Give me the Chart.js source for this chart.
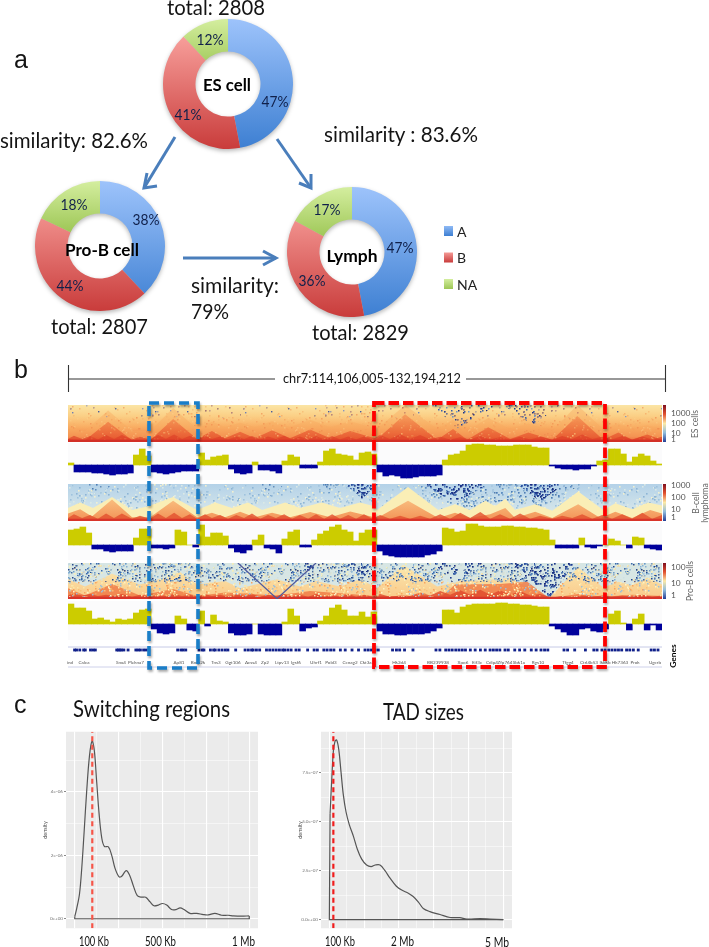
<!DOCTYPE html>
<html><head><meta charset="utf-8"><title>Compartments</title>
<script src="https://cdn.jsdelivr.net/npm/chart.js@4/dist/chart.umd.js"></script>
<style>
html,body{margin:0;padding:0;background:#fff;overflow:hidden}
#page{position:relative;width:709px;height:947px;overflow:hidden;background:#fff}
canvas{position:absolute;display:block}
svg{position:absolute;left:0;top:0;z-index:20;pointer-events:none}
</style></head><body><div id="page"></div>
<script>
/* ---------- panel a ---------- */
const compartmentLabels = ["A","B","NA"];
const esShares   = [47,41,12];
const proBShares = [38,44,18];
const lymphShares= [47,36,17];

/* ---------- panel b: compartment tracks, one value per 181 kb bin ---------- */
const esCompartment = [2,-7,-7,-7,-8,-8,-9,-10,-9,-9,-8,10,16,9,-7,-8,-9,-8,-7,-6,-6,-6,12,5,8,9,10,-4,-8,-9,-8,3,-5,-5,-6,-8,4,10,8,-3,-3,-3,3,14,16,11,10,9,5,12,13,11,-7,-11,-10,-11,-13,-13,-12,-11,-11,-11,-10,5,10,11,14,20,21,21,20,20,19,19,19,20,20,20,18,17,17,-1,-3,-4,-4,-5,-4,-4,-1,4,5,16,16,11,3,8,11,9,4,1];
const bCompartment = [15,16,18,12,-4,-4,-6,-7,-6,-6,-6,7,16,16,-3,-3,-4,-3,15,13,0,-2,20,8,12,12,9,-3,-7,-8,-5,5,10,-3,-4,-8,6,13,15,-2,-2,5,11,14,18,20,15,13,4,12,15,15,-6,-10,-11,-12,-12,-12,-12,-12,-10,-9,-6,17,16,13,14,21,21,19,18,18,18,19,19,18,18,17,17,16,15,5,-3,-3,-3,-3,7,-2,-3,-1,0,6,4,0,-3,8,7,-3,-4,-5];
const proBCompartment = [20,16,16,13,5,6,4,2,5,4,5,11,14,15,-5,-9,-10,-9,8,5,-6,-7,13,-2,9,3,2,-9,-11,-11,-10,0,-10,-11,-11,-11,2,15,8,-7,-4,-3,3,8,16,19,14,8,8,12,7,12,-7,-10,-10,-11,-11,-10,-10,-10,-9,-7,-4,14,14,11,17,19,20,20,20,20,21,21,20,20,19,19,18,17,17,-2,-5,-8,-11,-11,-5,-4,-7,-8,-5,10,13,1,-6,5,10,-6,-1,-6];

/* ---------- panel b: contact maps, domain outlines read along the locus (Mb) ---------- */
const ridgeMb = [114.11,114.29,114.54,114.78,115.02,115.27,115.51,115.75,116.06,116.30,116.61,116.85,117.09,117.34,117.58,117.82,118.04,118.28,118.49,118.74,118.98,119.23,119.47,119.71,119.96,120.20,120.44,120.69,120.93,121.17,121.42,121.66,121.91,122.15,122.39,122.64,122.88,123.12,123.37,123.61,123.91,124.22,124.52,124.83,125.13,125.44,125.74,126.05,126.35,126.66,126.96,127.26,127.57,127.87,128.18,128.48,128.85,129.15,129.46,129.76,130.07,130.37,130.67,130.98,131.28,131.59,131.89,132.19];
const esRidge = [8,17,8,16,7,19,8,19,7,14,7,19,9,20,8,17,7,16,8,15,7,15,8,16,7,15,8,17,7,15,7,16,7,16,7,15,7,15,7,19,8,21,8,19,7,14,7,13,7,16,7,13,7,14,7,14,6,16,8,20,8,14,7,16,7,15,7,14];
const bRidge = [8,18,8,16,6,20,8,20,6,14,6,20,8,22,8,18,6,18,8,16,6,16,8,20,6,16,8,18,6,16,6,18,6,18,6,16,6,18,6,16,6,14,6,14,6,18,6,22,8,24,6,18,6,20,6,14,6,14,8,18,6,16,6,18,6,22,6,16];
const proBRidge = [10,16,10,14,8,12,8,14,6,12,6,12,8,14,8,12,6,14,8,12,6,14,8,14,6,12,8,14,6,12,6,14,6,12,6,14,6,12,6,14,6,10,8,18,10,22,12,24,12,26,12,24,12,22,10,14,4,8,4,10,6,10,6,10,6,12,6,10];
const floorMb = [114.11,132.19];
const floorLevel = [6,6];

const esDomainMb = [114.11,114.63,115.33,116.06,116.61,117.31,118.04,118.49,118.89,119.35,119.80,120.32,120.87,121.48,122.09,122.70,123.52,124.37,125.35,125.83,126.26,126.90,127.57,128.12,128.85,129.61,130.40,130.86,131.28,131.74,132.19];
const esDomain   = [8,5,55,5,5,62,8,30,10,28,10,32,10,34,10,30,8,75,6,35,6,40,8,26,6,70,6,26,6,20,6];
const esHalo     = [40,30,85,30,30,92,35,55,40,52,40,56,40,60,40,56,35,100,35,60,30,65,35,50,30,100,35,50,35,45,35];
const esDepletedMb = [114.11,125.19,125.98,127.17,127.35,128.27,129.09,132.19];
const esDepleted   = [100,100,36,100,100,45,100,100];
const esSparse   = [66,66];

const bOuterMb = [114.11,114.48,114.87,115.45,116.06,116.55,117.31,118.04,118.59,119.10,119.59,120.02,120.72,121.17,121.84,122.39,123.00,123.43,123.52,124.46,125.38,125.89,126.35,126.81,127.11,127.42,127.72,128.33,128.85,129.64,130.40,130.77,131.28,131.77,132.19];
const bOuter   = [35,50,35,65,30,40,65,30,50,35,50,30,50,35,50,35,50,40,30,92,30,45,30,55,40,60,30,45,28,80,30,48,32,50,42];
const bInnerMb = [114.11,114.48,114.84,115.45,116.06,116.61,117.31,118.04,118.49,118.89,119.35,119.80,120.32,120.87,121.48,122.09,122.70,123.43,123.52,124.46,125.38,125.89,126.35,126.96,127.42,127.72,128.33,128.85,129.64,130.31,130.77,131.28,131.83,132.19];
const bInner   = [20,32,12,58,10,10,55,10,22,10,25,10,22,10,24,10,26,10,8,55,8,22,8,18,35,8,25,8,45,8,25,8,30,20];
const bDeepMb = [114.11,122.54,123.06,123.55,124.92,125.89,126.90,127.78,128.48,129.24,132.19];
const bDeep   = [100,100,60,100,100,48,100,100,53,100,100];
const bShadeMb = [114.11,114.63,115.02,115.51,119.96,120.32,120.69,121.00,121.66,122.09,122.39,123.43,124.46,125.98,127.42,128.48,129.76,132.19];
const bShade   = [100,100,70,100,100,62,100,100,100,74,100,100,100,30,56,32,100,100];

const proBOuterMb = [114.11,114.63,115.45,116.30,117.06,117.52,118.04,118.89,119.35,120.47,121.17,121.66,122.39,123.00,123.43,123.52,124.31,125.35,126.05,126.75,127.57,128.76,129.64,130.40,130.86,131.28,131.74,132.19];
const proBOuter   = [55,35,70,40,60,75,40,50,30,55,35,50,35,55,35,30,95,35,50,52,58,2,88,32,48,38,60,40];
const proBInnerMb = [114.11,114.63,115.45,116.30,117.31,118.04,118.89,120.47,121.48,122.70,123.43,125.50,125.89,127.26,128.09,128.76,129.64,130.40,131.28,132.19];
const proBInner   = [30,10,42,10,28,8,18,10,22,14,8,8,40,42,48,2,14,6,12,8];
const proBDeepMb = [114.11,121.17,121.48,121.66,122.54,123.06,123.55,125.22,125.89,126.75,127.57,128.09,128.76,129.55,132.19];
const proBDeep   = [100,100,60,100,100,55,100,100,42,100,100,52,2,100,100];
const proBGrain  = [0,0];
const proBLineMb = [119.28,120.47,121.66];
const proBLine   = [100,1,100];

const geneMb = [114.19,114.25,114.35,114.47,114.52,114.68,114.76,114.83,115.49,115.54,115.59,115.64,115.71,115.84,116.08,116.15,116.22,116.32,116.40,117.37,117.47,117.54,117.62,118.03,118.13,118.18,118.38,118.48,118.53,118.64,118.74,118.84,118.92,119.16,119.45,119.55,119.65,119.70,119.80,119.90,120.11,120.21,120.31,120.41,120.51,120.61,120.67,120.77,120.87,121.02,121.12,121.38,121.58,121.68,121.88,121.98,122.09,122.19,122.39,122.54,122.75,122.95,123.15,123.25,123.35,123.46,123.56,124.0,124.12,124.22,124.37,124.63,125.34,125.46,125.64,125.74,125.84,125.95,126.05,126.15,126.25,126.40,126.55,126.71,126.86,127.01,127.11,127.21,127.31,127.47,127.57,127.77,127.92,128.08,128.28,128.43,128.58,128.69,128.79,129.29,129.40,129.62,129.95,130.21,130.31,130.46,130.56,130.67,130.77,130.87,130.97,131.07,131.22,131.32,131.43,131.58,131.98,132.08,132.19];

/* ---------- panel c ---------- */
const switchKb = [0,11,27,40,53,68,84,99,112,125,139,154,169,192,211,230,253,268,293,312,335,357,382,405,430,452,477,500,525,553,578,601,624,658,696,734,762,800,838,876,905,952,996];
const switchDensity = [0.07,0.32,0.78,1.6,2.7,4.02,5.14,5.61,5.29,4.33,3.31,2.55,2.28,2.27,2.0,1.59,1.32,1.34,1.52,1.39,1.03,0.73,0.68,0.68,0.53,0.41,0.43,0.48,0.43,0.29,0.29,0.34,0.29,0.17,0.17,0.13,0.12,0.17,0.11,0.11,0.09,0.08,0.09];
const tadMb = [0.02,0.07,0.115,0.16,0.21,0.27,0.335,0.40,0.48,0.575,0.69,0.805,0.93,1.07,1.2,1.32,1.456,1.6,1.74,1.92,2.08,2.27,2.41,2.56,2.7,2.89,3.18,3.47,3.75,3.95,4.33,4.62,5];
const tadDensity = [5.42,7.2,8.6,9.1,9.18,8.7,7.55,6.4,5.5,4.84,4.27,3.6,3.09,2.79,2.71,2.79,2.79,2.5,2.13,1.72,1.51,1.35,1.18,0.9,0.57,0.41,0.26,0.11,0.1,0.03,0.05,0.03,0];
const switchYTicks = ["0e+00","2e-06","4e-06"];
const tadYTicks = ["0.0e+00","2.5e-07","5.0e-07","7.5e-07"];

/* ---------- helpers ---------- */
Chart.defaults.animation = false;
Chart.defaults.font.family = "Lato, sans-serif";
const page = document.getElementById('page');
function canvasAt(x,y,w,h,css){
  const c=document.createElement('canvas');
  c.width=w;c.height=h;
  c.style.cssText=`left:${x}px;top:${y}px;width:${w}px;height:${h}px;`+(css||'');
  page.appendChild(c);return c;
}
const baseOpts={responsive:false,maintainAspectRatio:false,devicePixelRatio:1,events:[],layout:{padding:0},
  plugins:{legend:{display:false},tooltip:{enabled:false}}};

/* doughnuts */
const sliceColors=[['#9dc3fb','#3d7fd2',0,1],['#f8a09c','#c93c3b',0.12,1],['#d4ee9f','#9dc655',0,0.4]];
function donut(x,y,values){
  new Chart(canvasAt(x-65,y-65,130,130,'filter:drop-shadow(0 2px 2px rgba(0,0,0,.28));'),{
    type:'doughnut',
    data:{labels:compartmentLabels,datasets:[{data:values,borderWidth:0,hoverOffset:0,
      backgroundColor(ctx){
        const a=ctx.chart.chartArea; if(!a) return '#888';
        const s=sliceColors[ctx.dataIndex], h=a.bottom-a.top;
        const g=ctx.chart.ctx.createLinearGradient(0,a.top+s[2]*h,0,a.top+s[3]*h);
        g.addColorStop(0,s[0]);g.addColorStop(1,s[1]);return g;
      }}]},
    options:{...baseOpts,cutout:'50%'}
  });
}
donut(228,84,esShares);
donut(100,246,proBShares);
donut(352,252,lymphShares);

/* compartment bars */
function track(y,h,values,max,min){
  new Chart(canvasAt(68,y,594,h,'background:#fbfbfc;filter:blur(.35px);'),{
    type:'bar',
    data:{labels:values.map((_,i)=>i),datasets:[{data:values,
      backgroundColor:values.map(v=>v>=0?'#cccc00':'#00009c'),
      categoryPercentage:1,barPercentage:1,borderWidth:0}]},
    options:{...baseOpts,scales:{x:{display:false},y:{display:false,min,max}}}
  });
}
track(443,37,esCompartment,22,-15);
track(523,37,bCompartment,22,-15);
track(601,39,proBCompartment,23,-16);

/* grain tiles for the noisy, low-count part of the contact maps */
const paintCtx=document.createElement('canvas').getContext('2d');
function hash(i){const v=Math.sin(i*12.9898)*43758.5453;return v-Math.floor(v);}
function tile(w,h,n,colors,size,seed){
  const c=document.createElement('canvas');c.width=w;c.height=h;
  const g=c.getContext('2d');
  for(let i=0;i<n;i++){
    g.fillStyle=colors[i%colors.length];
    g.fillRect(Math.floor(hash(seed+i*2)*w),Math.floor(hash(seed+i*2+1)*h),size,size);
  }
  return paintCtx.createPattern(c,'repeat');
}
function vgrad(h,stops){
  const g=paintCtx.createLinearGradient(0,0,0,h);
  stops.forEach(([o,c])=>g.addColorStop(o,c));
  return g;
}
const esDense=tile(173,37,620,['#27408f','#3a5fa8','#1c2f80','#6f97c6'],1.5,11);
const esFew=tile(173,37,90,['#4a5c9c','#6e7fb3','#8a96c0'],1.4,53);
const esGrain=tile(173,37,260,['rgba(247,178,108,.6)','rgba(251,214,146,.35)','rgba(238,138,78,.6)','rgba(245,160,92,.6)'],1.5,97);
const bDense=tile(173,37,1300,['#1e3a90','#2c52a3','#14297c','#4f7cb8','#1a3188'],1.6,131);
const bMottle=tile(173,37,650,['#5f8fc2','#7fa9cf','#4d7db5','#a9c9e0','#e9f0d8'],1.6,211);
const bHaze=tile(173,37,380,['#9fc3de','#dbe9e6','#8db5d6','#f3f0cf'],1.6,307);
const pDense=tile(173,36,1000,['#1e3a90','#2c52a3','#14297c','#4f7cb8','#cfe0e2'],1.6,401);
const pNoiseTop=tile(173,36,950,['#3c6cb0','#86b0d4','#cfe0e2','#f7efb9','#25478f','#6f9cc8'],1.5,503);
const pNoiseWarm=tile(173,36,620,['#f9c27a','#fbe7a8','#9dbfd8','#f7a35e','#fdf3c6'],1.5,601);

function pts(xs,ys){return xs.map((x,i)=>({x,y:ys[i]}));}
function layer(xs,ys,color,fill){return {data:pts(xs,ys),backgroundColor:color,fill:fill||'start',borderWidth:0,pointRadius:0,tension:0};}
function heat(y,h,bg,datasets,blur){
  new Chart(canvasAt(68,y,594,h,`background:${bg};filter:blur(${blur}px);`),{
    type:'line',data:{datasets},
    options:{...baseOpts,scales:{x:{type:'linear',display:false,min:114.11,max:132.19},y:{display:false,min:0,max:100}}}
  });
}
heat(405,37,'linear-gradient(#fbe5a5 0%,#fbcf85 30%,#f9ad62 60%,#f2854a 85%,#e6502f 94%,#d22f26 100%)',[
  layer(floorMb,floorLevel,'#d22f26'),
  layer(ridgeMb,esRidge,'rgba(220,62,38,.62)'),
  layer(floorMb,[100,100],esGrain,'start'),
  layer(esDomainMb,esDomain,vgrad(37,[[0.2,'rgba(244,128,70,.5)'],[1,'rgba(226,74,40,.85)']])),
  layer(esDomainMb,esHalo,'rgba(247,170,95,.42)'),
  layer(esDepletedMb,esDepleted,esDense,'end'),
  layer(floorMb,esSparse,esFew,'end')
],.6);
heat(484,37,'linear-gradient(#b4d2e8,#cfe2ea 60%,#e6eee0)',[
  layer(floorMb,floorLevel,'#d8342a'),
  layer(ridgeMb,bRidge,'rgba(226,80,46,.8)'),
  layer(bInnerMb,bInner,vgrad(37,[[0.3,'rgba(250,190,125,.85)'],[1,'rgba(242,140,80,.95)']])),
  layer(bOuterMb,bOuter,'#faeeb6'),
  layer(bDeepMb,bDeep,bDense,'end'),
  layer(bShadeMb,bShade,bMottle,'end'),
  layer(floorMb,[0,0],bHaze,'end')
],.6);
heat(563,36,'#d7e6e4',[
  {data:pts(proBLineMb,proBLine),borderColor:'#4f5a9e',borderWidth:1.3,pointRadius:0,fill:false,tension:0},
  layer(floorMb,floorLevel,'#d8342a'),
  layer(proBDeepMb,proBDeep,pDense,'end'),
  layer(floorMb,[48,48],pNoiseTop,'end'),
  layer(floorMb,proBGrain,pNoiseWarm,'end'),
  layer(ridgeMb,proBRidge,'rgba(224,72,44,.8)'),
  layer(proBInnerMb,proBInner,'rgba(240,125,72,.85)'),
  layer(proBOuterMb,proBOuter,vgrad(36,[[0,'#fbeab0'],[1,'#f9c98a']]))
],.55);

/* genes: short dark ticks */
new Chart(canvasAt(68,646,594,8,'z-index:5;filter:blur(.3px);'),{
  type:'scatter',
  data:{datasets:[{data:geneMb.map(x=>({x,y:1})),showLine:false,pointStyle:'rect',pointRadius:2,
    pointBackgroundColor:'#10208a',pointBorderColor:'#10208a',pointBorderWidth:0,clip:false}]},
  options:{...baseOpts,scales:{x:{type:'linear',display:false,min:114.11,max:132.19},y:{display:false,min:0,max:2}}}
});

/* density panels */
const panelBg={id:'panelBg',beforeDraw(c){const a=c.chartArea,g=c.ctx;g.save();g.fillStyle='#ebebeb';g.fillRect(a.left,a.top,a.right-a.left,a.bottom-a.top);g.restore();}};
function density(left,top,w,h,cfg){
  const gut=24;
  new Chart(canvasAt(left-gut,top,w+gut,h,'filter:blur(.25px);'),{
    type:'scatter',
    data:{datasets:[
      {data:[{x:cfg.mark,y:cfg.ymin},{x:cfg.mark,y:cfg.ymax}],showLine:true,borderColor:cfg.markColor,borderWidth:2.2,borderDash:[5,3.5],pointRadius:0},
      {data:pts(cfg.xs,cfg.ys),showLine:true,borderColor:'#555',borderWidth:1.2,pointRadius:0,tension:.35},
      {data:cfg.closure,showLine:true,borderColor:'#555',borderWidth:1.2,pointRadius:0,tension:0}
    ]},
    options:{...baseOpts,scales:{
      x:{type:'linear',min:cfg.xmin,max:cfg.xmax,border:{display:false},
        afterBuildTicks:s=>{s.ticks=cfg.xgrid.map(value=>({value}))},
        afterFit:s=>{s.height=0},
        ticks:{display:false,autoSkip:false},
        grid:{color:'#fff',drawTicks:false,lineWidth:c=>c.index%2?0.5:1.1}},
      y:{type:'linear',min:cfg.ymin,max:cfg.ymax,border:{display:false},
        afterBuildTicks:s=>{s.ticks=cfg.ygrid.map(value=>({value}))},
        afterFit:s=>{s.width=gut},
        title:{display:true,text:'density',font:{size:5.5},color:'#444',padding:0},
        ticks:{autoSkip:false,font:{size:4.6},color:'#777',padding:1,
          callback:(v,i)=>i%2?'':cfg.labels[i/2]},
        grid:{color:'#fff',tickLength:2,tickColor:c=>c.index%2?'rgba(0,0,0,0)':'#888',lineWidth:c=>c.index%2?0.5:1.1}}
    }},
    plugins:[panelBg]
  });
}
density(66,728,192,204,{xs:switchKb,ys:switchDensity,xmin:-50,xmax:1046,ymin:-0.3,ymax:5.9,mark:100,markColor:'#f65548',
  closure:[{x:switchKb[0],y:switchDensity[0]},{x:0,y:0},{x:1000,y:0},{x:switchKb[switchKb.length-1],y:switchDensity[switchKb.length-1]}],
  xgrid:[0,125,250,375,500,625,750,875,1000],ygrid:[0,1,2,3,4,5],labels:switchYTicks});
density(321,728,191,204,{xs:tadMb,ys:tadDensity,xmin:-0.24,xmax:5.25,ymin:-0.44,ymax:9.6,mark:0.115,markColor:'#f01c1c',
  closure:[{x:tadMb[0],y:tadDensity[0]},{x:0,y:0},{x:5,y:0}],
  xgrid:[0,0.5,1,1.5,2,2.5,3,3.5,4,4.5,5],ygrid:[0,1.25,2.5,3.75,5,6.25,7.5,8.75],labels:tadYTicks});

/* text, arrows, frames */
const NS='http://www.w3.org/2000/svg';
const svg=document.createElementNS(NS,'svg');svg.setAttribute('width',709);svg.setAttribute('height',947);page.appendChild(svg);
function el(n,a,p){const e=document.createElementNS(NS,n);for(const k in a)e.setAttribute(k,a[k]);(p||svg).appendChild(e);return e;}
function t(s,x,y,size,o={}){
  const a={x,y,'font-size':size,'font-family':o.fam||'Lato, sans-serif',fill:o.fill||'#141414','text-anchor':o.anchor||'start','font-weight':o.w||400};
  if(o.len){a.textLength=o.len;a.lengthAdjust='spacingAndGlyphs';}
  if(o.rot)a.transform=`rotate(${o.rot} ${x} ${y})`;
  el('text',a).textContent=s;
}
const grad=el('defs',{});
[['gA','#8fbaf5','#3d7fd2'],['gB','#f49a96','#c93c3b'],['gN','#d4ee9f','#9dc655']].forEach(([id,a,b])=>{
  const g=el('linearGradient',{id,x1:0,y1:0,x2:0,y2:1},grad);
  el('stop',{offset:0,'stop-color':a},g);el('stop',{offset:1,'stop-color':b},g);
});
function arrow(x1,y1,x2,y2,wx1,wy1,wx2,wy2){
  const s={stroke:'#4a7ebb','stroke-width':3,fill:'none','stroke-linecap':'butt','stroke-linejoin':'miter'};
  el('line',{x1,y1,x2,y2,...s});
  el('polyline',{points:`${wx1},${wy1} ${x2},${y2} ${wx2},${wy2}`,...s});
}
arrow(175,137,144,188,147,173,157,186);
arrow(277,139,311,188,311,174,299,183);
arrow(183,258,276,258,263,251,263,265);

t('a',14,68,25,{fam:'Liberation Sans'});
t('b',14,378,25,{fam:'Liberation Sans'});
t('c',14,713,25,{fam:'Liberation Sans'});

t('total: 2808',167,15,21.5,{len:98});
t('similarity: 82.6%',0,148,21.5,{len:148});
t('similarity : 83.6%',324,142,21.5,{len:154});
t('similarity:',191,293,21.5,{len:88});
t('79%',191,319,21.5,{len:38});
t('total: 2807',51,334,21.5,{len:97});
t('total: 2829',312,340,21.5,{len:97});
t('ES cell',227,91,17,{anchor:'middle',w:700,len:48,fill:'#000'});
t('Pro-B cell',102,256,17,{anchor:'middle',w:700,len:74,fill:'#000'});
t('Lymph',352,262,17,{anchor:'middle',w:700,len:51,fill:'#000'});

const pct=(s,cx,cy)=>t(s,cx-13.5,cy+5,15.5,{len:27,fill:'#10204a'});
pct(esShares[0]+'%',275,102);pct(esShares[2]+'%',210,40);pct(esShares[1]+'%',188,115);
pct(proBShares[0]+'%',146,220);pct(proBShares[2]+'%',74,205);pct(proBShares[1]+'%',70,286);
pct(lymphShares[0]+'%',400,248);pct(lymphShares[2]+'%',327,210);pct(lymphShares[1]+'%',312,281);

compartmentLabels.forEach((l,i)=>{
  const y=226+i*26.5;
  el('rect',{x:444,y,width:9,height:10,fill:['url(#gA)','url(#gB)','url(#gN)'][i]});
  t(l,457,y+10.5,14,{fill:'#222'});
});

/* locus ruler */
const rul={stroke:'#333','stroke-width':1.1};
el('line',{x1:68.5,y1:365,x2:68.5,y2:392,...rul});
el('line',{x1:665.5,y1:365,x2:665.5,y2:392,...rul});
el('line',{x1:68,y1:379,x2:275,y2:379,...rul});
el('line',{x1:466,y1:379,x2:665,y2:379,...rul});
t('chr7:114,106,005-132,194,212',283,383,13,{len:178});

/* colour bars */
const cb=el('linearGradient',{id:'cbar',x1:0,y1:0,x2:0,y2:1},grad);
[[0,'#7f1020'],[.25,'#e2502f'],[.5,'#fce9a5'],[.75,'#8fbcdc'],[1,'#263f96']].forEach(([o,c])=>el('stop',{offset:o,'stop-color':c},cb));
[[405,37],[484,37],[563,36]].forEach(([y,h])=>el('rect',{x:663,y,width:3,height:h,fill:'url(#cbar)'}));
const cbar=(s,y)=>t(s,671,y+3,8.4,{fill:'#555'});
cbar('1000',413);cbar('100',423);cbar('10',433);cbar('1',439);
cbar('1000',485);cbar('100',497);cbar('10',509);cbar('1',517);
cbar('100',567);cbar('10',583);cbar('1',595);
const rot=(s,x,cy,o={})=>t(s,x,cy,o.size||8.6,{rot:-90,anchor:'middle',fill:o.fill||'#666',w:o.w||400});
rot('ES cells',698,424);
rot('B-cell',699,503);rot('lymphoma',708,503);
rot('Pro-B cells',693,581);
rot('Genes',676,656,{fill:'#000',w:700,size:8.4});

/* gene axis */
el('line',{x1:68,y1:647,x2:662,y2:647,stroke:'#c6cae6','stroke-width':1});
el('line',{x1:68,y1:667,x2:662,y2:667,stroke:'#ced1ea','stroke-width':1});
const geneNames=['ind','Calca','Snx4','Plekna7','Ap81','Bmp2k','Tns3','Ggt106','Acss4','Zp2','Ltpv13','Igsf6','Uhrf1','Pold3','Ccnag2','Ckt3a7','Hk2d4','BB239938','Xpo6','Eif3c','Cdip4','Zfp764','Sbk1a','Rgs10','Tfgg4','Ctrl4b53','Ikbkb','Hk7363','Prok','Ugcrb'];
const geneNameAt=[70,84,121,136,179,198,216,233,251,265,282,296,316,331,350,367,399,438,463,477,492,505,519,538,568,589,605,620,635,655];
geneNames.forEach((n,i)=>t(n,geneNameAt[i],664,4.6,{anchor:'middle',fill:'#555'}));

/* highlight frames */
el('rect',{x:149,y:403,width:49,height:265,fill:'none',stroke:'#1a7ec8','stroke-width':3.6,'stroke-dasharray':'10 5',style:'filter:drop-shadow(1px 2px 1px rgba(0,0,0,.35))'});
el('rect',{x:374,y:403,width:231,height:264,fill:'none',stroke:'#ff0000','stroke-width':3.8,'stroke-dasharray':'10.5 4',style:'filter:drop-shadow(1px 2px 1px rgba(0,0,0,.3))'});

/* panel c labels */
t('Switching regions',73,717,24,{len:157});
t('TAD sizes',383,720,24,{len:81});
t('100 Kb',79,946,13,{len:30});
t('500 Kb',145,946,13,{len:31});
t('1 Mb',232,946,13,{len:23});
t('100 Kb',325,946,13,{len:30});
t('2 Mb',391,946,13,{len:23});
t('5 Mb',485,947,13,{len:24});
</script></body></html>
